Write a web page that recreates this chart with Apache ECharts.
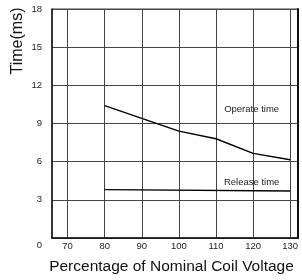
<!DOCTYPE html>
<html><head><meta charset="utf-8">
<script src="https://cdn.jsdelivr.net/npm/echarts@6/dist/echarts.min.js"></script>
<style>html,body{margin:0;padding:0;background:#fff}#c{width:302px;height:280px}</style>
</head><body><div id="c"></div>
<script>
const xTicks = [70, 80, 90, 100, 110, 120, 130];
const yTicks = [0, 3, 6, 9, 12, 15, 18];
const operateX = [80, 90, 100, 110, 120, 130];
const operateY = [10.4, 9.4, 8.4, 7.8, 6.65, 6.15];
const releaseX = [80, 130];
const releaseY = [3.8, 3.7];
const seriesNames = ['Operate time', 'Release time'];
const labelPos = [[119.6, 10.1], [119.6, 4.4]];
const xTitle = 'Percentage of Nominal Coil Voltage';
const yTitle = 'Time(ms)';

const chart = echarts.init(document.getElementById('c'), null, {renderer: 'canvas'});
const font = 'Liberation Sans, Arial, sans-serif';
const toPairs = (xs, ys) => xs.map((x, i) => [x, ys[i]]);
chart.setOption({
  animation: false,
  grid: {left: 52, right: 4, top: 9, bottom: 41, show: true, borderColor: '#444', borderWidth: 1},
  xAxis: {
    type: 'value', min: 65.8, max: 132.1,
    name: xTitle, nameLocation: 'middle', nameGap: 21,
    nameTextStyle: {fontSize: 15.5, color: '#111', fontFamily: font, padding: [0, 7, 0, 0]},
    axisLine: {show: true, onZero: false, lineStyle: {color: '#111', width: 1.5}},
    axisTick: {show: false, customValues: xTicks},
    axisLabel: {customValues: xTicks, fontSize: 9.5, color: '#222', fontFamily: font, margin: 3},
    splitLine: {show: true, lineStyle: {color: '#444', width: 1}}
  },
  yAxis: [{
    type: 'value', min: yTicks[0], max: yTicks[yTicks.length - 1], interval: 3,
    axisLine: {show: true, lineStyle: {color: '#111', width: 1.5}},
    axisTick: {show: false},
    axisLabel: {fontSize: 9.5, color: '#222', fontFamily: font, margin: 10,
      formatter: v => v === 0 ? '{z|0}' : String(v),
      rich: {z: {fontSize: 9.5, color: '#222', fontFamily: font, padding: [15, 0, 0, 0]}}},
    splitLine: {show: true, lineStyle: {color: '#444', width: 1}}
  }, {
    type: 'value', min: yTicks[0], max: yTicks[yTicks.length - 1], position: 'right',
    axisLine: {show: true, lineStyle: {color: '#111', width: 2}},
    axisTick: {show: false}, axisLabel: {show: false}, splitLine: {show: false}
  }],
  graphic: [{
    type: 'text', x: 18, y: 41, rotation: Math.PI / 2,
    style: {text: yTitle, fontSize: 16, fill: '#111', fontFamily: font, align: 'center', verticalAlign: 'middle'}
  }],
  series: [
    {name: seriesNames[0], type: 'line', data: toPairs(operateX, operateY), symbol: 'none',
     lineStyle: {color: '#000', width: 1.4},
     markPoint: {symbolSize: 0, data: [{coord: labelPos[0], name: seriesNames[0]}],
       label: {show: true, position: 'inside', formatter: '{b}', fontSize: 9.5, color: '#222', fontFamily: font}}},
    {name: seriesNames[1], type: 'line', data: toPairs(releaseX, releaseY), symbol: 'none',
     lineStyle: {color: '#000', width: 1.4},
     markPoint: {symbolSize: 0, data: [{coord: labelPos[1], name: seriesNames[1]}],
       label: {show: true, position: 'inside', formatter: '{b}', fontSize: 9.5, color: '#222', fontFamily: font}}}
  ]
});
</script></body></html>
